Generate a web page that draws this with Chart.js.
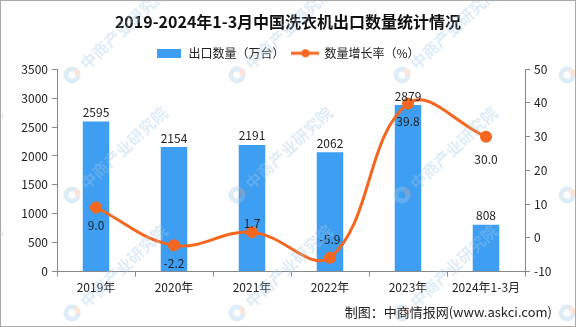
<!DOCTYPE html>
<html><head><meta charset="utf-8">
<script src="https://cdn.jsdelivr.net/npm/chart.js@4"></script>
<style>html,body{margin:0;padding:0;background:#fff}#wrap{width:576px;height:327px}</style>
</head><body><div id="wrap"><canvas id="c" width="576" height="327"></canvas></div>
<script>
const categories = ['2019年','2020年','2021年','2022年','2023年','2024年1-3月'];
const exportQty = [2595, 2154, 2191, 2062, 2879, 808];
const growthRate = [9.0, -2.2, 1.7, -5.9, 39.8, 30.0];
const leftTicks = [0,500,1000,1500,2000,2500,3000,3500];
const rightTicks = [-10,0,10,20,30,40,50];

const BLUE = '#3d9ef2', ORANGE = '#f5661f';
const FONT = '"Noto Sans CJK SC", "Liberation Sans", sans-serif';
// label offsets (px) for growth labels relative to points
const labelOffsets = [18, 18, -9, -18, 18, 23];

function makeIcon(kind){
  const c = document.createElement('canvas');
  if(kind==='bar'){ c.width=24; c.height=9; const x=c.getContext('2d'); x.fillStyle=BLUE; x.fillRect(0,0,24,9); }
  else { c.width=28; c.height=10; const x=c.getContext('2d'); x.strokeStyle=ORANGE; x.lineWidth=3; x.beginPath(); x.moveTo(0,5); x.lineTo(28,5); x.stroke(); x.fillStyle=ORANGE; x.beginPath(); x.arc(14,5,4,0,Math.PI*2); x.fill(); }
  return c;
}
const icons = [makeIcon('bar'), makeIcon('line')];

function drawWatermarks(ctx){
  const xs = [-93, 72, 237, 402, 567];
  const ys = [75, 195, 313];
  ctx.save();
  for(const ly of ys){ for(const lx of xs){
    ctx.save();
    ctx.translate(lx, ly);
    ctx.rotate(-43*Math.PI/180);
    ctx.lineWidth = 5;
    ctx.strokeStyle = 'rgba(160,200,232,0.35)';
    ctx.beginPath(); ctx.arc(0,0,6,0.3*Math.PI,1.9*Math.PI); ctx.stroke();
    ctx.strokeStyle = 'rgba(245,170,140,0.32)';
    ctx.beginPath(); ctx.arc(0,0,6,1.9*Math.PI,2.3*Math.PI); ctx.stroke();
    ctx.fillStyle = 'rgba(160,200,232,0.35)';
    ctx.font = 'bold 16px ' + FONT;
    ctx.textAlign='left'; ctx.textBaseline='middle';
    ctx.fillText('中商产业研究院', 14, 1);
    ctx.restore();
  }}
  ctx.restore();
}

const extras = {
  id:'extras',
  afterDatasetsDraw(chart){
    const ctx = chart.ctx;
    ctx.save();
    ctx.font = '12px ' + FONT;
    ctx.fillStyle = '#222';
    ctx.textAlign = 'center';
    chart.getDatasetMeta(0).data.forEach((el,i)=>{
      ctx.textBaseline='bottom';
      ctx.fillText(String(exportQty[i]), el.x, el.y-3);
    });
    chart.getDatasetMeta(1).data.forEach((el,i)=>{
      ctx.textBaseline='middle';
      ctx.fillText(growthRate[i].toFixed(1), el.x, el.y+labelOffsets[i]);
    });
    ctx.restore();
  },
  afterDraw(chart){
    const ctx = chart.ctx;
    drawWatermarks(ctx);
    ctx.save();
    ctx.font = '13px ' + FONT;
    ctx.fillStyle = '#222';
    ctx.textAlign='right'; ctx.textBaseline='middle';
    ctx.fillText('制图：中商情报网(www.askci.com)', 552, 312);
    ctx.strokeStyle='#aaa'; ctx.lineWidth=1;
    ctx.strokeRect(0.5,0.5,575,326);
    ctx.restore();
  }
};

new Chart(document.getElementById('c'), {
  data:{
    labels: categories,
    datasets:[
      {type:'bar', label:'出口数量（万台）', data: exportQty, yAxisID:'y', backgroundColor:BLUE, barPercentage:0.34, categoryPercentage:1, order:1},
      {type:'line', label:'数量增长率（%）', data: growthRate, yAxisID:'y1', borderColor:ORANGE, backgroundColor:ORANGE, borderWidth:3, pointRadius:4.5, pointHoverRadius:4.5, tension:0.4, order:0}
    ]
  },
  options:{
    responsive:false, animation:false, devicePixelRatio:1,
    layout:{padding:{left:4,right:4,top:6,bottom:28}},
    plugins:{
      title:{display:true, text:'2019-2024年1-3月中国洗衣机出口数量统计情况', color:'#111', font:{family:FONT, size:16, weight:'bold'}, padding:{top:6,bottom:8}},
      legend:{display:true, labels:{usePointStyle:true, pointStyleWidth:26, boxHeight:9, color:'#222', font:{family:FONT,size:12}, padding:8,
        sort:(a,b)=>a.datasetIndex-b.datasetIndex,
        generateLabels(chart){
          const items = Chart.defaults.plugins.legend.labels.generateLabels(chart);
          items.forEach(it=>{ it.pointStyle = icons[it.datasetIndex]; });
          return items;
        }}},
      tooltip:{enabled:false}
    },
    scales:{
      x:{grid:{display:true, drawOnChartArea:false, drawTicks:true, tickLength:5, color:'#888', offset:true}, border:{color:'#888'}, ticks:{color:'#222', font:{family:FONT,size:12}, padding:4, maxRotation:0}},
      y:{position:'left', min:0, max:3500, afterBuildTicks(s){s.ticks=leftTicks.map(v=>({value:v}));}, grid:{display:true, drawOnChartArea:false, tickLength:5, color:'#888'}, border:{color:'#888'}, ticks:{color:'#222', font:{family:FONT,size:12}, padding:4, callback:v=>String(v)}, afterFit(s){s.width=53;}},
      y1:{position:'right', min:-10, max:50, afterBuildTicks(s){s.ticks=rightTicks.map(v=>({value:v}));}, grid:{display:true, drawOnChartArea:false, tickLength:5, color:'#888'}, border:{color:'#888'}, ticks:{color:'#222', font:{family:FONT,size:12}, padding:4, callback:v=>String(v)}, afterFit(s){s.width=47;}}
    }
  },
  plugins:[extras]
});
</script></body></html>
